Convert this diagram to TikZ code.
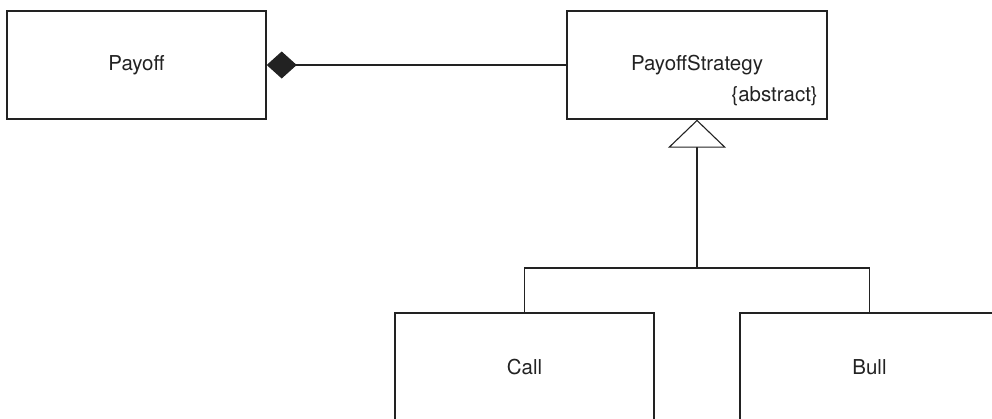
\documentclass[tikz,border=0pt]{standalone}
\usepackage{fontspec}
\setmainfont{TeX Gyre Heros}
\usetikzlibrary{arrows.meta}
\definecolor{ink}{HTML}{222222}
\tikzset{
  classbox/.style={draw=ink, line width=1.4pt, minimum width=259pt, minimum height=108pt,
    inner sep=0pt, font=\fontsize{20.5}{24}\selectfont, text=ink},
  conn/.style={draw=ink, line width=1.1pt},
  lbl/.style={font=\fontsize{20.5}{24}\selectfont, text=ink, inner sep=0pt}
}
\begin{document}
\begin{tikzpicture}[x=1pt,y=-1pt]
\useasboundingbox (0,0) rectangle (992,418);
\clip (0,0) rectangle (992,418);
\node[classbox] (payoff) at (136.5,65) {Payoff};
\node[classbox, minimum width=260pt] (ps) at (697,65) {};
\node[lbl] (pstitle) at (697,65) {PayoffStrategy};
\node[lbl, anchor=east] (abs) at (818,96) {\{abstract\}};
\node[classbox] (call) at (524.5,367) {Call};
\node[classbox] (bull) at (869.5,367) {Bull};
\coordinate (j) at (697,268);
\draw[conn, {Diamond[length=30pt,width=27pt,fill=ink]}-] (payoff.east) -- (ps.west);
\draw[conn, -{Triangle[open,length=28pt,width=58pt,fill=white,line width=1.1pt]}] (j) -- (ps.south);
\draw[conn] (call.north) |- (j) -| (bull.north);
\end{tikzpicture}
\end{document}
